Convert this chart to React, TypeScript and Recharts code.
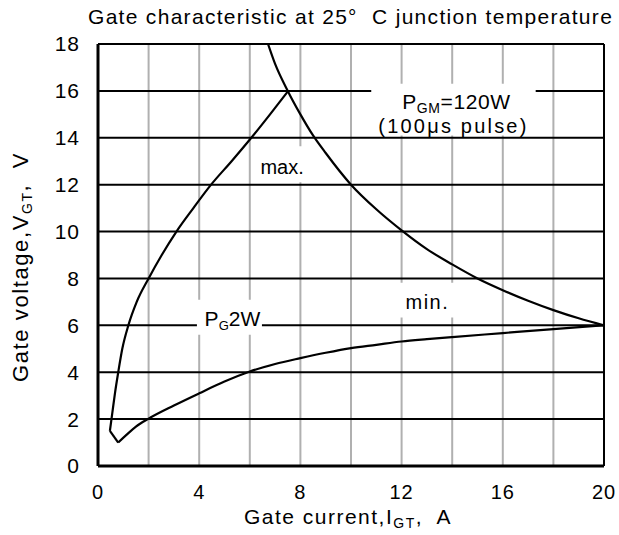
import React from "react";
import {
  LineChart,
  Line,
  XAxis,
  YAxis,
  CartesianGrid,
  ReferenceLine,
  ReferenceArea,
} from "recharts";

const FONT = "'Liberation Sans', Arial, sans-serif";

const xTicks = [0, 4, 8, 12, 16, 20];
const yTicks = [0, 2, 4, 6, 8, 10, 12, 14, 16, 18];
const xGridLines = [2, 4, 6, 8, 10, 12, 14, 16, 18];

// gate current I_GT (A), gate voltage V_GT (V)
const maxCurve = [
  [0.47, 1.5], [0.57, 2.3], [0.67, 3.1], [0.8, 4.0], [0.96, 5.0], [1.2, 6.0],
  [1.53, 7.0], [2.0, 8.0], [2.52, 9.0], [3.1, 10.0], [3.77, 11.0], [4.47, 12.0],
  [5.28, 13.0], [6.06, 14.0], [6.8, 15.0], [7.52, 16.0],
].map(([x, y]) => ({ x, y }));

const cornerSegment = [
  [0.47, 1.5], [0.8, 1.0],
].map(([x, y]) => ({ x, y }));

const minCurve = [
  [0.8, 1.0], [1.2, 1.4], [1.5, 1.68], [2.0, 2.02], [3.0, 2.58], [4.0, 3.1],
  [5.0, 3.6], [6.0, 4.03], [7.0, 4.35], [8.0, 4.6], [9.0, 4.83], [10.0, 5.03],
  [11.0, 5.17], [12.0, 5.31], [13.0, 5.41], [14.0, 5.5], [16.0, 5.67],
  [18.0, 5.84], [20.0, 6.0],
].map(([x, y]) => ({ x, y }));

// P_GM = 120W limit
const pgmCurve = [
  [6.72, 18.0], [7.0, 17.15], [7.5, 16.0], [8.0, 15.0], [8.5, 14.1], [9.0, 13.35],
  [10.0, 12.0], [11.0, 10.95], [12.0, 10.05], [13.0, 9.25], [14.0, 8.6],
  [15.0, 8.0], [16.0, 7.5], [17.0, 7.05], [18.0, 6.65], [19.0, 6.3], [20.0, 6.0],
].map(([x, y]) => ({ x, y }));

const txt = { fill: "#000", fontFamily: FONT };

const pgmLabel = (props: any) => {
  const { x, y, width } = props.viewBox;
  const cx = x + width / 2;
  return (
    <g>
      <text x={cx + 3} y={y + 25} textAnchor="middle" fontSize={21} letterSpacing={0.6} {...txt}>
        P<tspan fontSize={14} dy={4}>GM</tspan>
        <tspan dy={-4}>=120W</tspan>
      </text>
      <text x={cx} y={y + 49} textAnchor="middle" fontSize={20} letterSpacing={2.2} {...txt}>
        (100μs pulse)
      </text>
    </g>
  );
};

const simpleLabel = (s: string, spacing: number, dy: number) => (props: any) => {
  const { x, y, width, height } = props.viewBox;
  return (
    <text
      x={x + width / 2}
      y={y + height / 2 + dy}
      textAnchor="middle"
      fontSize={20}
      letterSpacing={spacing}
      {...txt}
    >
      {s}
    </text>
  );
};

const pgLabel = (props: any) => {
  const { x, y, width, height } = props.viewBox;
  return (
    <text x={x + width / 2 + 3} y={y + height / 2 + 9} textAnchor="middle" fontSize={21} {...txt}>
      P<tspan fontSize={13} dy={4}>G</tspan>
      <tspan dy={-4}>2W</tspan>
    </text>
  );
};

const xLabel = () => (
  <text
    x={348}
    y={524}
    textAnchor="middle"
    fontSize={21}
    letterSpacing={1.5}
    style={{ whiteSpace: "pre" }}
    {...txt}
  >
    Gate current,I<tspan fontSize={14} dy={4}>GT</tspan>
    <tspan dy={-4}>,  A</tspan>
  </text>
);

const yLabel = () => (
  <text
    x={28}
    y={267}
    transform="rotate(-90 28 267)"
    textAnchor="middle"
    fontSize={22}
    letterSpacing={1.6}
    style={{ whiteSpace: "pre" }}
    {...txt}
  >
    Gate voltage,V<tspan fontSize={14} dy={4}>GT</tspan>
    <tspan dy={-4}>,  V</tspan>
  </text>
);

export default function App() {
  return (
    <div style={{ position: "absolute", left: 0, top: 0, width: 619, height: 535, background: "#fff" }}>
      <div
        style={{
          position: "absolute",
          left: 88,
          top: 5,
          fontFamily: FONT,
          fontSize: 21,
          letterSpacing: 1.3,
          whiteSpace: "pre",
          color: "#000",
        }}
      >
        Gate characteristic at 25°  C junction temperature
      </div>
      <LineChart
        width={619}
        height={535}
        margin={{ top: 44, right: 15, bottom: 0, left: 0 }}
      >
        <CartesianGrid
          xAxisId="grid"
          horizontal={false}
          stroke="#b0b0b0"
          strokeWidth={2}
        />
        <CartesianGrid vertical={false} stroke="#000" strokeWidth={2} />
        <XAxis
          xAxisId="grid"
          dataKey="x"
          type="number"
          domain={[0, 20]}
          ticks={xGridLines}
          allowDataOverflow
          hide
        />
        <XAxis
          dataKey="x"
          type="number"
          domain={[0, 20]}
          ticks={xTicks}
          allowDataOverflow
          tickLine={false}
          tickSize={0}
          tickMargin={19}
          height={69}
          axisLine={{ stroke: "#000", strokeWidth: 3 }}
          tick={{ ...txt, fontSize: 20, letterSpacing: 1 }}
          label={xLabel}
        />
        <YAxis
          dataKey="y"
          type="number"
          domain={[0, 18]}
          ticks={yTicks}
          allowDataOverflow
          tickLine={false}
          tickSize={0}
          tickMargin={18}
          width={98}
          axisLine={{ stroke: "#000", strokeWidth: 3 }}
          tick={{ ...txt, fontSize: 21, letterSpacing: 1 }}
          label={yLabel}
        />
        <ReferenceLine y={18} stroke="#000" strokeWidth={2} />
        <ReferenceLine x={20} stroke="#000" strokeWidth={2} />

        <ReferenceArea x1={10.8} x2={17.3} y1={14.1} y2={16.3} fill="#fff" fillOpacity={1} stroke="none" label={pgmLabel} />
        <ReferenceArea x1={6.25} x2={8.3} y1={12.1} y2={13.64} fill="#fff" fillOpacity={1} stroke="none" label={simpleLabel("max.", 0, 10)} />
        <ReferenceArea x1={11.74} x2={14.3} y1={6.33} y2={7.82} fill="#fff" fillOpacity={1} stroke="none" label={simpleLabel("min.", 1.5, 8.5)} />
        <ReferenceArea x1={3.91} x2={6.48} y1={5.6} y2={7.09} fill="#fff" fillOpacity={1} stroke="none" label={pgLabel} />

        <Line data={maxCurve} dataKey="y" type="monotone" stroke="#000" strokeWidth={2.2} dot={false} isAnimationActive={false} />
        <Line data={cornerSegment} dataKey="y" type="linear" stroke="#000" strokeWidth={2.2} dot={false} isAnimationActive={false} />
        <Line data={minCurve} dataKey="y" type="monotone" stroke="#000" strokeWidth={2.2} dot={false} isAnimationActive={false} />
        <Line data={pgmCurve} dataKey="y" type="monotone" stroke="#000" strokeWidth={2.2} dot={false} isAnimationActive={false} />
      </LineChart>
    </div>
  );
}
